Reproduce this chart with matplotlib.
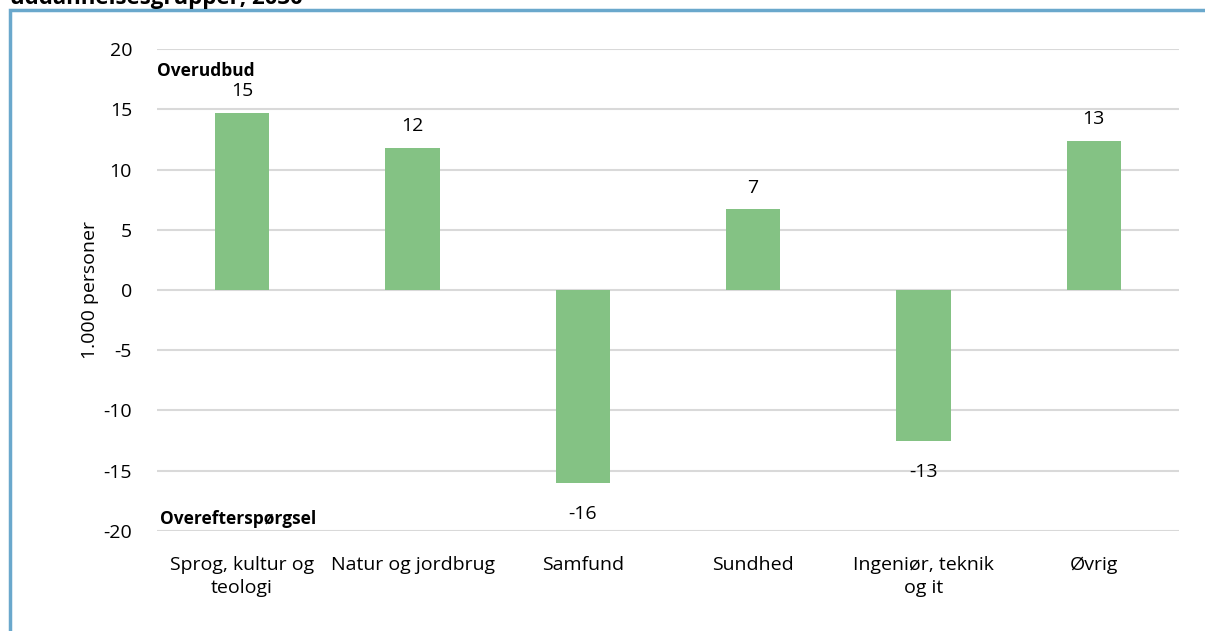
import matplotlib
matplotlib.use("Agg")
import matplotlib.pyplot as plt
import matplotlib.patches as patches
import matplotlib.transforms as mtransforms
import numpy as np

plt.rcParams['font.family'] = ['Open Sans', 'DejaVu Sans']

categories = ["Sprog, kultur og\nteologi", "Natur og jordbrug", "Samfund",
              "Sundhed", "Ingeniør, teknik\nog it", "Øvrig"]
values = [14.7, 11.8, -16.0, 6.7, -12.5, 12.4]
labels = ["15", "12", "-16", "7", "-13", "13"]
yticks = [-20, -15, -10, -5, 0, 5, 10, 15, 20]

bar_color = "#84C284"
grid_color = "#D9D9D9"

fig = plt.figure(figsize=(12.05, 6.31), dpi=100)
ax = fig.add_axes([0.1303, 0.1585, 0.8481, 0.7638])

x = np.arange(len(categories))
ax.bar(x, values, width=0.32, color=bar_color, zorder=2)

for xi, v, lab in zip(x, values, labels):
    if v >= 0:
        ax.annotate(lab, (xi, v), xytext=(0, 9), textcoords="offset points",
                    ha="center", va="bottom", fontsize=14, color="#000000")
    else:
        ax.annotate(lab, (xi, v), xytext=(0, -16), textcoords="offset points",
                    ha="center", va="top", fontsize=14, color="#000000")

ax.set_xlim(-0.5, len(categories) - 0.5)
ax.set_ylim(-20, 20)
ax.set_yticks(yticks)
ax.set_yticklabels([str(t) for t in yticks], fontsize=14)
ax.set_xticks(x)
ax.set_xticklabels(categories, fontsize=14, linespacing=1.35)
ax.tick_params(axis="both", length=0)
ax.tick_params(axis="y", pad=18)
ax.tick_params(axis="x", pad=18)
ax.yaxis.grid(True, color=grid_color, linewidth=1.5, zorder=0)
ax.set_axisbelow(True)
for s in ax.spines.values():
    s.set_visible(False)
ax.set_ylabel("1.000 personer", fontsize=14, labelpad=3)

mixed = mtransforms.blended_transform_factory(ax.transAxes, ax.transData)
ax.text(0.0, 18.2, "Overudbud", fontsize=12.5, fontweight="bold",
        va="center", ha="left", transform=mixed)
ax.text(0.003, -19.0, "Overefterspørgsel", fontsize=12.5, fontweight="bold",
        va="center", ha="left", transform=mixed)

# frame and cut-off title
fig.patches.append(patches.Rectangle((10 / 1205, -0.1), 1.2, 1 - 10 / 631 + 0.1,
                                     transform=fig.transFigure, fill=False,
                                     edgecolor="#6AA8CC", linewidth=2.5))
fig.text(10 / 1205, 1 - 4 / 631, "uddannelsesgrupper, 2030", fontsize=16,
         fontweight="bold", ha="left", va="baseline")

fig.savefig("out.png", dpi=100)
